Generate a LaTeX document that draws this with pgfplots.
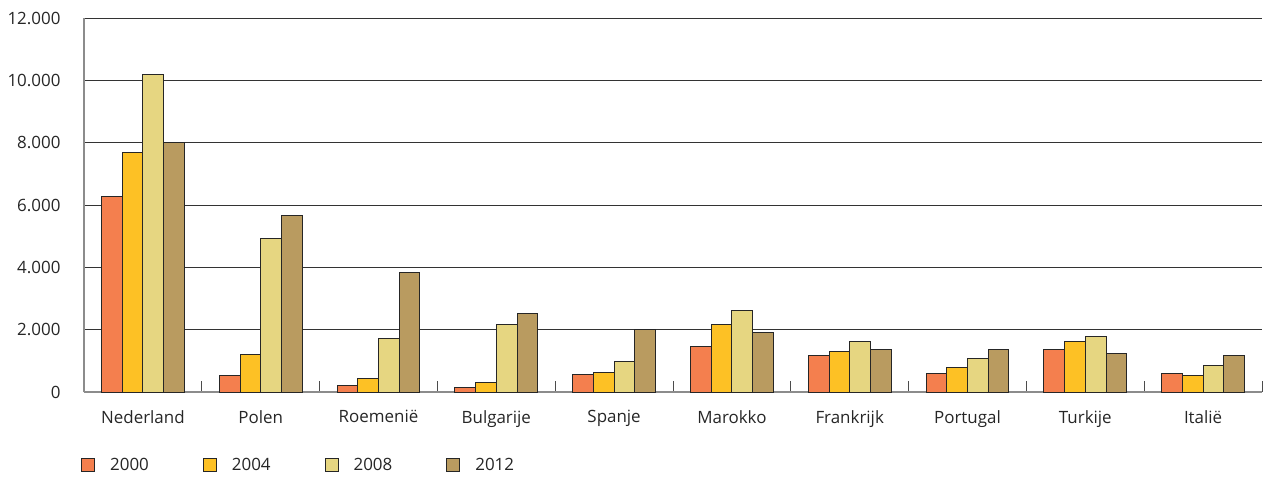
\documentclass[border=0pt]{standalone}
\usepackage{pgfplots}
\pgfplotsset{compat=1.18}
\usepackage{pgfplotstable}
\usepackage{fontspec}
\setmainfont{Open Sans}

\definecolor{c2000}{HTML}{F47F4E}
\definecolor{c2004}{HTML}{FDC125}
\definecolor{c2008}{HTML}{E6D681}
\definecolor{c2012}{HTML}{B99B60}
\definecolor{txt}{HTML}{262626}

% values per country: 2000, 2004, 2008, 2012
\pgfplotstableread{
x y2000 y2004 y2008 y2012
0 6260 7670 10200 8000
1 545 1190 4940 5650
2 220 420 1730 3850
3 150 310 2180 2525
4 570 610 963 2000
5 1444 2180 2620 1915
6 1177 1305 1626 1370
7 580 783 1070 1360
8 1360 1626 1787 1232
9 600 535 847 1168
}\data

\begin{document}
\begin{tikzpicture}
\begin{axis}[
    scale only axis,
    width=1178bp, height=374bp,
    ybar=0pt, bar width=20.7bp,
    xmin=-0.5, xmax=9.5,
    ymin=0, ymax=12000,
    xtick={0,...,9},
    xticklabels={Nederland,Polen,Roemenië,Bulgarije,Spanje,Marokko,Frankrijk,Portugal,Turkije,Italië},
    minor xtick={0.5,1.5,...,9.5},
    ytick={0,2000,...,12000},
    scaled y ticks=false,
    axis x line*=bottom, axis y line*=left,
    axis line style={draw=black!45, line width=1.2bp},
    tick align=inside,
    major tick length=0pt,
    minor tick length=11bp,
    minor x tick style={draw=black!70, line width=1bp},
    major x tick style={draw=none},
    ytick style={draw=none},
    ymajorgrids,
    grid style={draw=black!80, line width=0.9bp},
    /pgf/number format/assume math mode=true,
    tick label style={font=\fontsize{17}{20}\selectfont, text=txt},
    xticklabel style={yshift=-15bp},
    yticklabel style={xshift=-20bp, /pgf/number format/.cd, fixed, 1000 sep={.}},
    legend columns=4,
    legend style={draw=none, at={(0,0)}, anchor=north west, yshift=-62bp, xshift=-6bp,
        font=\fontsize{17}{20}\selectfont, text=txt,
        /tikz/every even column/.append style={column sep=52bp},
        /tikz/every odd column/.append style={column sep=13bp}},
    legend image code/.code={\draw[#1] (0bp,-6.5bp) rectangle (13bp,6.5bp);},
]
\addplot[fill=c2000, draw=black!85, line width=1bp] table[x=x, y=y2000] {\data};
\addplot[fill=c2004, draw=black!85, line width=1bp] table[x=x, y=y2004] {\data};
\addplot[fill=c2008, draw=black!85, line width=1bp] table[x=x, y=y2008] {\data};
\addplot[fill=c2012, draw=black!85, line width=1bp] table[x=x, y=y2012] {\data};
\legend{2000,2004,2008,2012}
\coordinate (sw) at (rel axis cs:0,0);
\coordinate (ne) at (rel axis cs:1,1);
\end{axis}
\path ([shift={(-84bp,-84bp)}]sw) rectangle ([shift={(4bp,18bp)}]ne);
\end{tikzpicture}
\end{document}
